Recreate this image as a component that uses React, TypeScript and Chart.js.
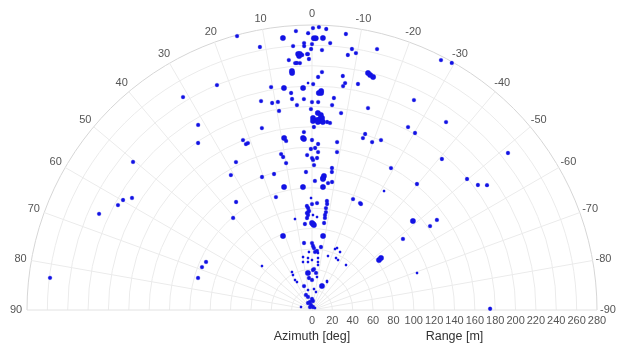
import { useEffect, useRef } from 'react';
import { Chart, registerables } from 'chart.js';

Chart.register(...registerables);

// Detection azimuth in degrees (positive = left of boresight)
const azimuthDeg = [
  11.2, 3.3, -0.2, -1.4, -2.9, 0.8, 6.1, -0.4, -0.8, -2.3,
  -7.0, 4.1, 1.7, 1.7, 0, -3.9, -8.7, 0.2, -2.2, -8.0,
  -9.7, 3.1, 2.7, 2.9, 1.1, 0.9, 2.2, 5.3, 0.7, 3.9,
  3.5, 2.8, 4.8, 4.8, -2.4, -1.5, -7.5, -13.3, -13.9, -14.7,
  1.0, -0.3, 10.4, 7.2, 2.3, -8.3, -7.9, -11.5, -2.4, -2.4,
  -1.8, 5.5, 2.2, 13.7, 10.9, 9.3, 5.4, 4.2, 0, -1.7,
  -5.9, -5.6, 9.4, 0.3, -8.4, -15.5, -1.7, -2.6, -3.0, -0.3,
  -0.3, -1.5, -2.4, -3.0, -3.3, -1.8, -4.6, -5.5, -0.6, 15.4,
  2.6, 9.2, 8.7, 3.0, 2.7, 0, -8.5, -16.8, -16.5, -19.7,
  -22.1, -2.1, 0.4, -1.1, -2.2, -9.0, 11.2, 10.7, 1.8, 0,
  -0.4, -1.9, 10.0, -0.8, -8.0, -8.2, 2.5, 15.6, 20.6, -5.1,
  -4.8, -4.8, -1.3, -8.9, -7.2, 12.8, 4.2, -5.1, 17.7, 0.5,
  -20.3, -24.2, -24.8, 0, -2.7, -7.8, -8.1, -7.8, 2.8, 2.2,
  1.7, -8.1, 3.0, 2.3, 3.1, 2.4, -0.6, -3.1, -7.8, -8.0,
  10.6, 4.7, 0, -0.7, -1.3, -7.9, 21.4, -8.5, 6.8, 0,
  -0.9, -1.8, -3.0, -4.8, -8.1, -6.0, 3.0, -20.7, -22.0, -25.8,
  -16.5, 9.6, 10.6, 4.4, 4.8, 0, -6.6, -7.1, -7.6, -24.8,
  -27.5, -37.1, 48.7, -1.4, -2.8, 6.2, -6.2, 27.8, 28.5, -8.6,
  5.4, 0, 29.5, 28.2, -27.3, 18.4, -22.6, 11.3, -5.4, -12.5,
  21.8, 17.1, 0, 14, -6.3, 29.7, 11.3, -18.4, 33.7, 74.7,
  -56.3, 15.3, 22.9, 31.2, 31.6, 34.3, 22.1, 21.7, 21.0, 50.4,
  27.2, 31.0, 58.1, 59.8, 61.6, 65.7, 35.1, 40.6, 65.6, 68.7,
  74.3, 83.0, -14.0, -27.3, -29.5, -25.9, -35.5, -27.7, -30.2, -51.3,
  -40.7, -29.1, -49.8, -53.0, -54.5, -39.8, -31.2, -48.6, -54.2, -54.6,
  -52.0, -53.3, -53.0, -70.6, -89.6, -28.2,
];

// Detection range in metres
const rangeM = [
  263.4, 274.5, 277, 278, 276.4, 272, 268.7, 267, 267, 267.4,
  273.2, 260, 262.4, 259.4, 261.3, 262.9, 259.4, 256.4, 255.6, 253,
  256.1, 251.9, 251.8, 249.8, 251.5, 251.5, 250.7, 246.6, 246.6, 243.2,
  243.1, 242.9, 235.6, 233.7, 234, 229, 231.9, 239.2, 237.8, 236.6,
  223, 222, 222.7, 219.8, 218.3, 225.3, 222.1, 226.6, 215.3, 213.4,
  213.3, 214.2, 207.4, 211.3, 207.1, 207.1, 208.2, 201.9, 204.3, 204.4,
  209.4, 202.3, 198.2, 197.4, 195.6, 205.9, 193.6, 191.8, 188.9, 188.6,
  185.7, 186.7, 187.8, 185.9, 185, 184.8, 185.3, 184.6, 179.8, 185.4,
  175, 171.2, 168, 169.2, 168.2, 167, 166.8, 180.6, 176.2, 175.2,
  180.2, 163.2, 158.2, 159.2, 155.3, 157.1, 156.2, 153, 152.3, 149.3,
  147.4, 149.4, 146.6, 142.4, 140.9, 137, 135.7, 138.7, 139.6, 132.2,
  130.1, 129.1, 126.8, 127.3, 125.7, 123.9, 121.1, 121.3, 116.5, 110,
  116.2, 115.2, 114.7, 104.1, 105.2, 108.1, 105.2, 101.1, 102.3, 100.3,
  97.3, 97.2, 95.4, 96.3, 90.5, 93.4, 93.3, 91.5, 94.2, 91.3,
  90.9, 84.8, 85.5, 84.5, 83.5, 86.3, 78.1, 73.5, 66.3, 65.8,
  62.9, 60.9, 57.1, 58.2, 62.5, 56.3, 57.1, 64, 65.7, 63.3,
  55.3, 52.8, 48, 51.2, 47.3, 49.1, 51.4, 47.5, 44.6, 56.3,
  55.4, 55.4, 65.4, 39.3, 40.3, 36.6, 36.6, 42.2, 39.1, 32.8,
  31.6, 29.5, 33.9, 31.2, 32.1, 24.8, 25.5, 20, 20.7, 18.1,
  15.9, 13.4, 10.8, 8.1, 8.9, 7.9, 5, 3.1, 3.5, 11.2,
  3.5, 279, 239.9, 244.6, 213.5, 198.6, 180.2, 175.5, 175.7, 228.2,
  163.4, 154.7, 208.3, 214.8, 216.7, 229.5, 129.7, 119.1, 114.3, 116,
  116.3, 259.3, 264.2, 276.3, 278.9, 229.3, 226.8, 203, 201.2, 246.7,
  195.7, 159.6, 199.4, 204.1, 211.2, 161.1, 136.6, 132.2, 151.3, 142.3,
  113.4, 82.1, 84.9, 109.4, 175, 31.2,
];

// Marker size class (1 = small, 2 = medium, 3 = large)
const markerSize = [
  2, 2, 2, 2, 2, 2, 3, 3, 3, 3,
  2, 2, 2, 2, 2, 2, 2, 2, 2, 2,
  2, 3, 3, 3, 2, 2, 2, 2, 2, 2,
  2, 2, 3, 3, 2, 2, 2, 3, 3, 3,
  1, 2, 2, 3, 3, 2, 2, 2, 3, 3,
  3, 2, 2, 2, 2, 2, 2, 2, 2, 2,
  2, 2, 2, 2, 2, 2, 3, 3, 3, 3,
  3, 3, 3, 3, 3, 3, 2, 2, 2, 2,
  2, 3, 2, 3, 3, 2, 2, 2, 2, 2,
  2, 2, 2, 2, 2, 2, 2, 2, 2, 2,
  2, 2, 2, 2, 2, 2, 2, 2, 2, 3,
  3, 3, 2, 2, 2, 3, 3, 3, 2, 1,
  2, 2, 2, 2, 2, 2, 2, 2, 2, 2,
  2, 2, 2, 2, 2, 2, 1, 1, 2, 2,
  1, 2, 3, 3, 3, 2, 3, 3, 2, 2,
  2, 2, 2, 2, 2, 1, 1, 1, 1, 1,
  1, 1, 1, 1, 1, 1, 1, 1, 1, 1,
  1, 1, 1, 2, 2, 3, 2, 1, 1, 1,
  2, 2, 1, 1, 1, 2, 3, 1, 1, 1,
  2, 2, 2, 2, 2, 2, 2, 2, 2, 1,
  1, 2, 2, 2, 2, 2, 2, 2, 2, 2,
  2, 2, 2, 2, 2, 2, 2, 2, 2, 2,
  2, 2, 2, 2, 2, 2, 2, 2, 2, 2,
  2, 2, 2, 2, 2, 2, 1, 3, 2, 2,
  2, 3, 3, 1, 2, 1,
];

const azimuthTicks = [90, 80, 70, 60, 50, 40, 30, 20, 10, 0, -10, -20, -30, -40, -50, -60, -70, -80, -90];
const rangeTicks = [0, 20, 40, 60, 80, 100, 120, 140, 160, 180, 200, 220, 240, 260, 280];
const rangeMax = 280;
const azimuthTitle = 'Azimuth [deg]';
const rangeTitle = 'Range [m]';

const FONT = "'Liberation Sans', Arial, Helvetica, sans-serif";

export default function App() {
  const ref = useRef<HTMLCanvasElement>(null);

  useEffect(() => {
    if (!ref.current) return;
    const toRad = Math.PI / 180;
    const points = azimuthDeg.map((a, i) => ({
      x: -rangeM[i] * Math.sin(a * toRad),
      y: rangeM[i] * Math.cos(a * toRad),
    }));
    const radii = markerSize.map((s) => (s === 3 ? 2.7 : s === 2 ? 1.9 : 1.2));

    const polarGrid = {
      id: 'polarGrid',
      beforeDatasetsDraw(chart: any) {
        const ctx = chart.ctx as CanvasRenderingContext2D;
        const xs = chart.scales.x;
        const ys = chart.scales.y;
        const cx = xs.getPixelForValue(0);
        const cy = ys.getPixelForValue(0);
        const R = xs.getPixelForValue(rangeMax) - cx;
        ctx.save();
        ctx.lineWidth = 1;
        // range rings
        for (const r of rangeTicks) {
          if (r === 0) continue;
          const rp = xs.getPixelForValue(r) - cx;
          ctx.beginPath();
          ctx.arc(cx, cy, rp, Math.PI, 2 * Math.PI);
          ctx.strokeStyle = r === rangeMax ? '#d6d6d6' : '#ebebeb';
          ctx.stroke();
        }
        // radial spokes
        for (const a of azimuthTicks) {
          const t = a * toRad;
          ctx.beginPath();
          ctx.moveTo(cx, cy);
          ctx.lineTo(cx - R * Math.sin(t), cy - R * Math.cos(t));
          ctx.strokeStyle = Math.abs(a) === 90 ? '#e2e2e2' : '#ebebeb';
          ctx.stroke();
        }
        // azimuth labels
        ctx.fillStyle = '#555555';
        ctx.font = `11px ${FONT}`;
        ctx.textAlign = 'center';
        ctx.textBaseline = 'middle';
        const lr = R + 11;
        for (const a of azimuthTicks) {
          const t = a * toRad;
          ctx.fillText(String(a), cx - lr * Math.sin(t), cy - lr * Math.cos(t));
        }
        // range labels
        for (const r of rangeTicks) {
          ctx.fillText(String(r), xs.getPixelForValue(r), cy + 11);
        }
        // titles
        ctx.fillStyle = '#333333';
        ctx.font = `12.5px ${FONT}`;
        ctx.fillText(azimuthTitle, cx, cy + 27);
        ctx.fillText(rangeTitle, xs.getPixelForValue(rangeMax / 2), cy + 27);
        ctx.restore();
      },
    };

    const chart = new Chart(ref.current, {
      type: 'scatter',
      data: {
        datasets: [
          {
            data: points,
            pointRadius: radii,
            pointBackgroundColor: 'rgb(18,18,228)',
            pointBorderColor: 'rgba(18,18,228,0.45)',
            pointBorderWidth: 0.6,
            clip: false,
          } as any,
        ],
      },
      options: {
        animation: false,
        responsive: false,
        events: [],
        layout: { padding: { left: 27, right: 20, top: 25, bottom: 35 } },
        scales: {
          x: { type: 'linear', min: -rangeMax, max: rangeMax, display: false },
          y: { type: 'linear', min: 0, max: rangeMax, display: false },
        },
        plugins: { legend: { display: false }, tooltip: { enabled: false } },
      },
      plugins: [polarGrid],
    });
    return () => chart.destroy();
  }, []);

  return (
    <canvas
      ref={ref}
      width={617}
      height={345}
      style={{ position: 'fixed', left: 0, top: 0, width: 617, height: 345 }}
    />
  );
}
